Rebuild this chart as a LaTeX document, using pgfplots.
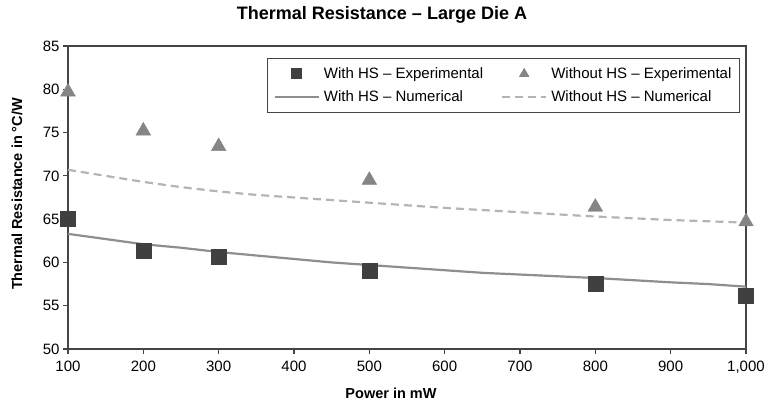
\documentclass[border=0pt]{standalone}
\usepackage{fontspec}
\setmainfont{Liberation Sans}
\usepackage{pgfplots}
\pgfplotsset{compat=1.18}
\usetikzlibrary{calc}
\definecolor{sqc}{HTML}{404040}
\definecolor{trc}{HTML}{858585}
\definecolor{l1c}{HTML}{8E8E8E}
\definecolor{l2c}{HTML}{B4B4B4}
\definecolor{axc}{HTML}{454545}
\begin{document}
\begin{tikzpicture}
\begin{axis}[name=ax, scale only axis, width=678pt, height=303pt,
  xmin=100, xmax=1000, ymin=50, ymax=85,
  xtick={100,200,...,1000}, ytick={50,55,...,85},
  tick align=outside, xtick pos=bottom, ytick pos=left,
  major tick length=5pt,
  axis line style={color=axc, line width=1.2pt},
  every tick/.style={axc, line width=1.2pt},
  ticklabel style={font=\fontsize{15}{17}\selectfont},
  xticklabel style={yshift=-3pt},
  /pgf/number format/assume math mode=true,
  clip=false,
  legend columns=2,
  legend cell align=left,
  legend image code/.code={\draw[mark repeat=2,mark phase=2,#1] plot coordinates {(0pt,0pt) (22pt,0pt) (44pt,0pt)};},
  legend style={at={(0.991,0.96)}, anchor=north east, draw=axc, line width=1pt,
    font=\fontsize{15}{17}\selectfont, inner xsep=6pt, inner ysep=7pt, row sep=7pt,
    /tikz/every odd column/.append style={column sep=2pt},
    /tikz/every even column/.append style={column sep=16pt}},
  legend image post style={mark size=5pt},
]
\addplot[only marks, mark=square*, mark size=7.5pt, mark options={fill=sqc, draw=sqc}] coordinates {
(100,65.0) (200,61.4) (300,60.7) (500,59.1) (800,57.5) (1000,56.1)};
\addlegendentry{With HS – Experimental}
\addplot[only marks, mark=triangle*, mark size=8.5pt, mark options={fill=trc, draw=trc}] coordinates {
(100,79.7) (200,75.2) (300,73.4) (500,69.5) (800,66.4) (1000,64.7)};
\addlegendentry{Without HS – Experimental}
\addplot[no marks, l1c, line width=2.2pt] coordinates {
(100,63.3) (150,62.7) (200,62.1) (250,61.7) (300,61.2) (350,60.8) (400,60.4) (450,60.0) (500,59.7) (550,59.4) (600,59.1) (650,58.8) (700,58.6) (750,58.4) (800,58.2) (850,57.95) (900,57.7) (950,57.5) (1000,57.2)};
\addlegendentry{With HS – Numerical}
\addplot[no marks, l2c, line width=2.2pt, dash pattern=on 8pt off 5pt] coordinates {
(100,70.7) (150,70.0) (200,69.3) (250,68.7) (300,68.2) (350,67.8) (400,67.5) (450,67.2) (500,66.9) (550,66.6) (600,66.3) (650,66.05) (700,65.8) (750,65.55) (800,65.3) (850,65.1) (900,64.9) (950,64.75) (1000,64.6)};
\addlegendentry{Without HS – Numerical}
\end{axis}
\coordinate (O) at ($(ax.south west)+(-68pt,349pt)$);
\node[font=\fontsize{18}{21}\selectfont\bfseries] at ($(O)+(382pt,-15pt)$) {Thermal Resistance – Large Die A};
\node[font=\fontsize{14.5}{17}\selectfont\bfseries, rotate=90] at ($(O)+(17pt,-194pt)$) {Thermal Resistance in °C/W};
\node[font=\fontsize{14.5}{17}\selectfont\bfseries] at ($(O)+(391pt,-393pt)$) {Power in mW};
\pgfresetboundingbox
\path[use as bounding box] (O) rectangle ($(O)+(767pt,-404pt)$);
\end{tikzpicture}
\end{document}
